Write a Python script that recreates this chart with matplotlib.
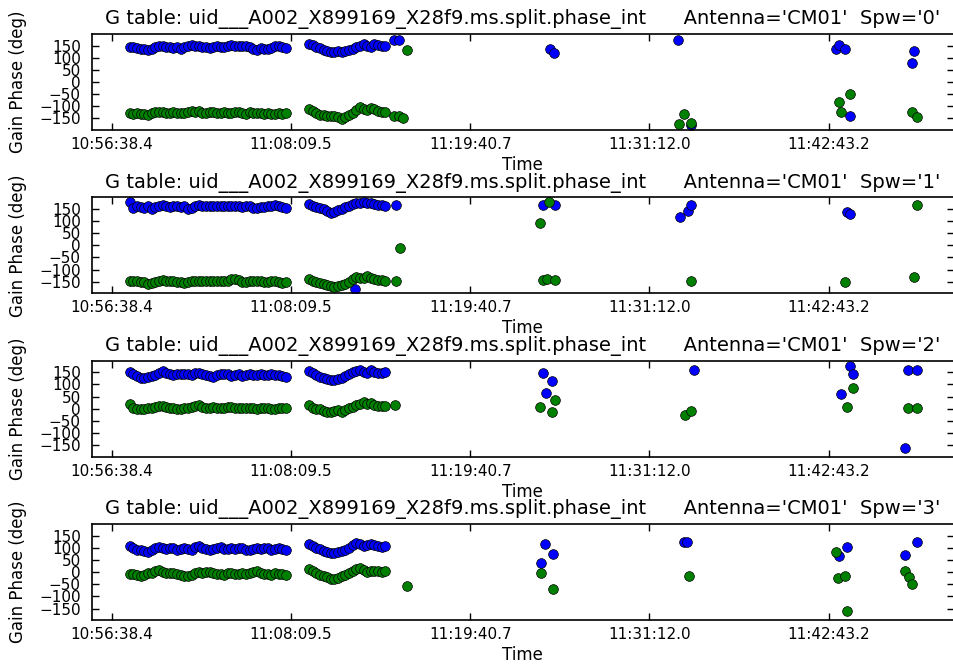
import matplotlib
matplotlib.use("Agg")
import matplotlib.pyplot as plt

# tick labels (UT) and the seconds they sit at, relative to the first one
tick_labels = ["10:56:38.4", "11:08:09.5", "11:19:40.7", "11:31:12.0", "11:42:43.2"]

# integration times (s after 10:56:38.4) of the two dense scans
t_seg1 = [70, 84, 98, 112, 126, 140, 154, 168, 182, 196, 210, 224, 238, 252, 266,
          280, 294, 308, 322, 336, 350, 364, 378, 392, 406, 420, 434, 448, 462, 476,
          490, 504, 518, 532, 546, 560, 574, 588, 602, 616, 630, 644, 658, 672]
t_seg2 = [761, 775, 789, 803, 817, 831, 845, 859, 873, 887, 901, 915, 929, 943,
          957, 971, 985, 999, 1013, 1027, 1041, 1055]

# ---- Spw 0
spw0_pol1 = [145, 143, 140, 134, 137, 131, 136, 145, 150, 146, 143, 145, 141, 144, 136,
             142, 147, 152, 150, 146, 143, 145, 140, 144, 146, 143, 145, 148, 151, 149,
             146, 150, 147, 143, 136, 133, 138, 135, 134, 140, 147, 150, 144, 138,
             158, 152, 145, 138, 130, 127, 122, 124, 126, 125, 128, 132, 137, 143,
             150, 156, 148, 142, 155, 152, 148, 150]
spw0_pol2 = [-130, -131, -130, -131, -132, -136, -128, -125, -122, -124, -127, -126, -124,
             -128, -130, -127, -122, -120, -123, -118, -126, -127, -125, -124, -126, -127,
             -122, -126, -128, -125, -123, -127, -131, -125, -129, -127, -130, -133, -127,
             -131, -134, -129, -132, -128,
             -112, -120, -128, -135, -138, -140, -139, -142, -146, -153, -145, -135, -126,
             -115, -105, -110, -114, -108, -113, -118, -122, -125]
spw0_pol1_t = [1088, 1108, 1689, 1705, 2184, 2233, 2792, 2803, 2827, 2847, 3084, 3094]
spw0_pol1_extra = [174, 174, 134, 120, 172, -178, 134, 151, 134, -141, 77, 127]
spw0_pol2_t = [1088, 1108, 1124, 1137, 2186, 2207, 2233, 2803, 2814, 2847, 3084, 3107]
spw0_pol2_extra = [-139, -139, -149, 132, -174, -134, -168, -84, -123, -50, -123, -145]

# ---- Spw 1
spw1_pol1 = [177, 152, 160, 158, 155, 161, 150, 156, 163, 165, 160, 157, 160, 162, 158,
             160, 150, 155, 163, 165, 161, 160, 162, 163, 160, 161, 164, 162, 160, 163,
             161, 157, 162, 160, 152, 155, 158, 156, 161, 164, 165, 162, 159, 155,
             170, 162, 158, 155, 148, 140, 134, 138, 145, 150, 156, 162, 170, 176,
             173, 177, 174, 175, 172, 168, 166, 164]
spw1_pol2 = [-145, -147, -148, -150, -152, -160, -155, -150, -146, -143, -145, -148, -146,
             -150, -153, -155, -152, -148, -147, -145, -147, -148, -146, -147, -148, -147,
             -146, -145, -140, -137, -143, -150, -152, -147, -146, -148, -145, -150, -153,
             -147, -145, -150, -154, -152,
             -138, -148, -152, -155, -158, -163, -168, -170, -166, -162, -158, -152, -140,
             -131, -136, -133, -127, -135, -138, -141, -143, -145]
spw1_pol1_t = [940, 1098, 1663, 1709, 2190, 2222, 2233, 2835, 2848]
spw1_pol1_extra = [-178, 166, 168, 168, 115, 142, 168, 138, 131]
spw1_pol2_t = [1098, 1111, 1651, 1663, 1677, 1686, 1709, 2233, 2826, 3092, 3105]
spw1_pol2_extra = [-145, -9, 93, -143, -139, 178, -143, -146, -150, -132, 168]

# ---- Spw 2
spw2_pol1 = [150, 141, 133, 128, 127, 132, 135, 140, 146, 154, 148, 141, 140, 143, 142,
             145, 144, 140, 146, 147, 143, 139, 135, 131, 137, 142, 145, 141, 134, 138,
             143, 136, 140, 142, 139, 137, 141, 140, 138, 142, 139, 137, 135, 131,
             154, 146, 138, 130, 126, 122, 118, 120, 124, 128, 134, 142, 150, 156,
             161, 152, 146, 158, 152, 148, 149, 150]
spw2_pol2 = [19, 4, -2, 0, -1, 1, 3, 8, 11, 12, 6, 2, 4, 0, -1, 3, 2, 6, 10, 14, 7, 3,
             5, 8, 4, 2, 1, 6, 9, 3, 5, 2, 1, 4, 3, 0, 2, 5, 3, -1, 0, 2, 3, 1,
             15, 5, 0, -3, -8, -12, -15, -10, -7, -12, -6, 2, 8, 15, 20, 26, 18, 24,
             17, 12, 10, 12]
spw2_pol1_t = [1663, 1674, 1696, 2245, 2814, 2846, 2858, 3060, 3070, 3105]
spw2_pol1_extra = [149, 64, 115, 161, 60, 178, 145, -162, 161, 161]
spw2_pol2_t = [1092, 1651, 1696, 1709, 2212, 2233, 2835, 2858, 3070, 3105]
spw2_pol2_extra = [15, 7, -15, 37, -27, -8, 7, 87, 1, 1]

# ---- Spw 3
spw3_pol1 = [106, 100, 93, 90, 87, 83, 92, 101, 104, 99, 96, 100, 98, 92, 94, 101, 97,
             93, 104, 106, 101, 96, 93, 97, 99, 103, 97, 94, 98, 96, 100, 99, 93, 92,
             97, 99, 96, 100, 98, 93, 96, 99, 94, 90,
             114, 108, 100, 94, 87, 82, 77, 80, 84, 86, 92, 100, 110, 119, 115, 108,
             112, 114, 110, 107, 105, 106]
spw3_pol2 = [-6, -9, -12, -14, -10, -5, -2, 3, 7, 1, -3, -5, -2, -8, -12, -16, -17, -10,
             -3, 0, -4, 2, 0, -3, -6, -8, -10, -4, -2, -6, -8, -5, -9, -4, 2, 3, -3, -6,
             -8, -10, -5, -7, -9, -12,
             13, 6, -3, -10, -17, -22, -28, -30, -25, -18, -12, -3, 5, 12, 17, 10, 2,
             3, 5, 4, 2, 3]
spw3_pol1_t = [1657, 1670, 1702, 2207, 2220, 2803, 2835, 3060, 3105]
spw3_pol1_extra = [37, 114, 74, 126, 126, 66, 103, 70, 126]
spw3_pol2_t = [1137, 1657, 1702, 2226, 2792, 2801, 2827, 2835, 3060, 3073, 3084]
spw3_pol2_extra = [-59, -3, -71, -14, 81, -26, -14, -159, 3, -19, -47]

spws = ["0", "1", "2", "3"]
pol1 = [spw0_pol1, spw1_pol1, spw2_pol1, spw3_pol1]
pol2 = [spw0_pol2, spw1_pol2, spw2_pol2, spw3_pol2]
pol1_t = [spw0_pol1_t, spw1_pol1_t, spw2_pol1_t, spw3_pol1_t]
pol1_x = [spw0_pol1_extra, spw1_pol1_extra, spw2_pol1_extra, spw3_pol1_extra]
pol2_t = [spw0_pol2_t, spw1_pol2_t, spw2_pol2_t, spw3_pol2_t]
pol2_x = [spw0_pol2_extra, spw1_pol2_extra, spw2_pol2_extra, spw3_pol2_extra]


def secs(label):
    h, m, s = label.split(":")
    return int(h) * 3600 + int(m) * 60 + float(s)


tick_pos = [secs(l) - secs(tick_labels[0]) for l in tick_labels]
t_dense = t_seg1 + t_seg2

plt.rcParams["font.family"] = "DejaVu Sans"
plt.rcParams["axes.linewidth"] = 1.2
plt.rcParams["xtick.direction"] = "in"
plt.rcParams["ytick.direction"] = "in"
plt.rcParams["xtick.top"] = True
plt.rcParams["ytick.right"] = True

fig, axes = plt.subplots(4, 1, figsize=(9.54, 6.64), dpi=100)
fig.subplots_adjust(left=0.0964, right=0.9995, top=0.949, bottom=0.066, hspace=0.70)

mk = dict(linestyle="none", marker="o", ms=7, mec="k", mew=0.5)
for i, ax in enumerate(axes):
    ax.plot(t_dense, pol1[i], color="#0000ff", **mk)
    ax.plot(pol1_t[i], pol1_x[i], color="#0000ff", **mk)
    ax.plot(t_dense, pol2[i], color="#008000", **mk)
    ax.plot(pol2_t[i], pol2_x[i], color="#008000", **mk)

    ax.set_xlim(-76, 3246)
    ax.set_ylim(-198, 198)
    ax.set_xticks(tick_pos)
    ax.set_xticklabels(tick_labels)
    ax.set_yticks([150, 100, 50, 0, -50, -100, -150])
    ax.tick_params(axis="both", which="major", length=5, width=1, labelsize=11)
    ax.tick_params(axis="x", pad=5)
    ax.tick_params(axis="y", pad=8)
    ax.set_xlabel("Time", fontsize=12, labelpad=3)
    ax.set_ylabel("Gain Phase (deg)", fontsize=12, labelpad=9)
    ax.set_title("G table: uid___A002_X899169_X28f9.ms.split.phase_int      "
                 "Antenna='CM01'  Spw='%s'" % spws[i], fontsize=14, pad=7)

fig.savefig("out.png", dpi=100)
